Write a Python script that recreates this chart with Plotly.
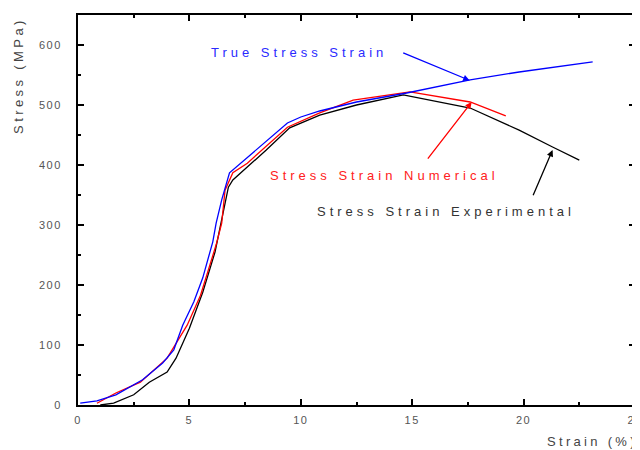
import plotly.graph_objects as go

# Strain (%) and Stress (MPa)
true_x = [0.1, 0.85, 1.7, 2.9, 3.8, 4.3, 4.7, 5.2, 5.6, 6.05, 6.2, 6.45, 6.8, 7.3, 8.5, 9.4, 10.0, 10.85, 12.5, 14.75, 17.6, 19.8, 23.1]
true_y = [3, 7, 17, 42, 70, 92, 133, 172, 212, 272, 303, 342, 387, 403, 442, 470, 480, 490, 505, 520, 542, 555, 572]

num_x = [0.85, 1.7, 2.8, 4.0, 4.9, 5.5, 6.2, 6.45, 6.6, 6.95, 7.6, 9.4, 10.85, 12.35, 14.9, 17.6, 19.2]
num_y = [3, 20, 38, 78, 133, 183, 267, 303, 358, 387, 403, 463, 487, 508, 522, 505, 482]

exp_x = [1.0, 1.6, 2.5, 3.2, 4.0, 4.4, 5.0, 5.6, 6.15, 6.5, 6.75, 6.95, 8.45, 9.5, 10.85, 12.5, 14.6, 17.6, 19.8, 21.3, 22.5]
exp_y = [0, 3, 17, 38, 55, 78, 128, 188, 255, 320, 363, 375, 425, 462, 483, 500, 517, 495, 458, 430, 408]

x_ticks = [0, 5, 10, 15, 20, 25]
y_ticks = [0, 100, 200, 300, 400, 500, 600]


def spaced(s, px):
    return '<span style="letter-spacing:%spx">%s</span>' % (px, s)


fig = go.Figure()
fig.add_trace(go.Scatter(x=exp_x, y=exp_y, mode="lines", line=dict(color="black", width=1.3), showlegend=False))
fig.add_trace(go.Scatter(x=num_x, y=num_y, mode="lines", line=dict(color="#ff0000", width=1.3), showlegend=False))
fig.add_trace(go.Scatter(x=true_x, y=true_y, mode="lines", line=dict(color="#0000ff", width=1.3), showlegend=False))

axis_common = dict(
    showgrid=False, zeroline=False, showline=True, linecolor="black", linewidth=2,
    mirror="ticks", ticks="inside", ticklen=6, tickwidth=2, tickcolor="black", automargin=False,
    ticklabeloverflow="allow",
    tickfont=dict(family="Liberation Sans", size=11, color="#555555"),
)
fig.update_xaxes(range=[0, 25], tickvals=x_ticks, ticktext=[spaced(v, 1.5) for v in x_ticks],
                 minor=dict(ticks="inside", ticklen=3, tickwidth=2, tickcolor="black", dtick=2.5),
                 ticklabelstandoff=4, **axis_common)
fig.update_yaxes(range=[0, 650], tickvals=y_ticks, ticktext=[spaced(v, 1.5) for v in y_ticks],
                 minor=dict(ticks="inside", ticklen=3, tickwidth=2, tickcolor="black", dtick=50),
                 ticklabelstandoff=12, **axis_common)

font_ann = "Liberation Sans"
anns = [
    dict(x=9.9, y=588, text="True Stress Strain", color="#2a2aff"),
    dict(x=13.75, y=383, text="Stress Strain Numerical", color="#ff2020"),
    dict(x=16.5, y=322, text="Stress Strain Experimental", color="#333333"),
]
for a in anns:
    fig.add_annotation(x=a["x"], y=a["y"], xref="x", yref="y", text=spaced(a["text"], 4.0), showarrow=False,
                       font=dict(family=font_ann, size=13, color=a["color"]))

arrows = [
    dict(x=17.58, y=541, ax=14.53, ay=588, color="#0000ff"),
    dict(x=17.67, y=505, ax=15.65, ay=408, color="#ff0000"),
    dict(x=21.3, y=425, ax=20.4, ay=347, color="black"),
]
for a in arrows:
    fig.add_annotation(x=a["x"], y=a["y"], xref="x", yref="y", ax=a["ax"], ay=a["ay"],
                       axref="x", ayref="y", text="", showarrow=True, arrowhead=2,
                       arrowsize=1, arrowwidth=1.3, arrowcolor=a["color"])

fig.add_annotation(xref="paper", yref="paper", x=-0.107, y=1.0, text=spaced("Stress (MPa)", 3.4), textangle=-90,
                   showarrow=False, xanchor="center", yanchor="top",
                   font=dict(family="Liberation Sans", size=13, color="#444444"))
fig.add_annotation(xref="paper", yref="paper", x=1.009, y=-0.094, text=spaced("Strain (%)", 3.3),
                   showarrow=False, xanchor="right", yanchor="middle",
                   font=dict(family="Liberation Sans", size=13, color="#444444"))

# page body has an 8px margin; figure sized so it fills the 640x450 window
fig.update_layout(width=632, height=442, margin=dict(l=70, r=5, t=7, b=45),
                  plot_bgcolor="white", paper_bgcolor="white")
fig.write_html("out.html")
